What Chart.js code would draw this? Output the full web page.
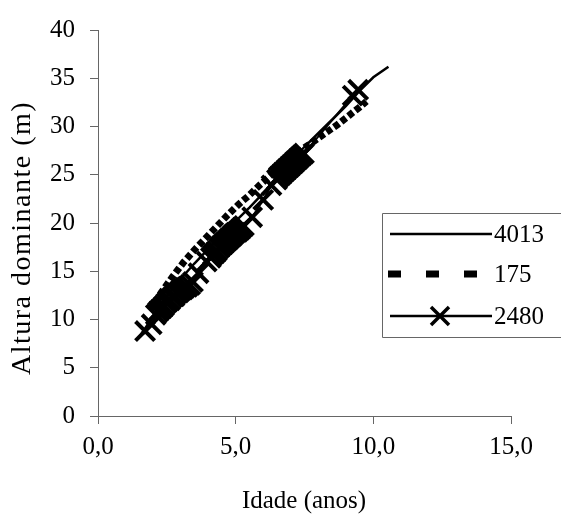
<!DOCTYPE html>
<html>
<head>
<meta charset="utf-8">
<script src="https://cdn.jsdelivr.net/npm/chart.js@4.4.1/dist/chart.umd.min.js"></script>
<style>
  html, body { margin: 0; padding: 0; background: #fff; }
  canvas { display: block; }
</style>
</head>
<body>
<canvas id="chart" width="561" height="515"></canvas>
<script>
const SERIF = "'Liberation Serif', 'Times New Roman', serif";
const AXIS = '#666';

// parcela 4013 (linha continua)
const idade4013 = [1.5, 2.0, 2.5, 3.0, 3.5, 4.0, 4.5, 5.0, 5.5, 6.0, 6.5, 7.0, 7.5, 8.0, 8.5, 9.0, 9.5, 10.0, 10.55];
const altura4013 = [8.2, 10.3, 12.4, 14.2, 15.8, 17.3, 18.8, 20.2, 21.6, 23.1, 24.7, 26.3, 27.9, 29.3, 30.7, 32.1, 33.7, 35.1, 36.2];

// parcela 175 (tracejada)
const idade175 = [1.9, 2.3, 2.7, 3.1, 3.5, 3.9, 4.3, 4.7, 5.1, 5.5, 5.9, 6.3, 6.7, 7.1, 7.5, 7.9, 8.3, 8.7, 9.1, 9.5, 9.75];
const altura175 = [11.0, 12.8, 14.4, 15.9, 17.2, 18.4, 19.6, 20.8, 21.9, 22.9, 24.0, 25.0, 26.0, 26.9, 27.8, 28.6, 29.4, 30.2, 31.1, 32.0, 32.6];

// parcela 2480 (marcador X), medicoes agrupadas por inventario
const idade2480 = [
  1.71, 1.95,
  2.10, 2.18, 2.25, 2.33, 2.40, 2.48, 2.55, 2.62, 2.70, 2.78, 2.85, 2.93, 3.00, 3.08, 3.16, 3.25, 3.35, 3.45,
  3.65, 3.95,
  4.10, 4.17, 4.25, 4.32, 4.40, 4.47, 4.55, 4.62, 4.70, 4.77, 4.85, 4.92, 5.00, 5.07, 5.15, 5.22, 5.30,
  5.60, 6.00, 6.30,
  6.50, 6.57, 6.65, 6.72, 6.80, 6.87, 6.95, 7.02, 7.10, 7.17, 7.25, 7.32, 7.40, 7.48,
  9.25, 9.45
];
const altura2480 = [
  8.8, 9.5,
  10.5, 10.8, 11.0, 11.2, 11.4, 11.7, 11.9, 12.0, 12.3, 12.4, 12.7, 12.8, 13.0, 13.1, 13.3, 13.4, 13.6, 13.9,
  14.8, 16.0,
  16.4, 16.7, 16.9, 17.1, 17.4, 17.6, 17.8, 18.0, 18.2, 18.4, 18.6, 18.8, 19.0, 19.1, 19.3, 19.5, 19.7,
  20.6, 22.4, 23.9,
  24.5, 24.8, 25.0, 25.2, 25.4, 25.6, 25.8, 26.0, 26.2, 26.4, 26.6, 26.8, 27.0, 27.2,
  33.2, 33.8
];

const xTicks = [0, 5, 10, 15];
const yTicks = [0, 5, 10, 15, 20, 25, 30, 35, 40];
const legendLabels = ['4013', '175', '2480'];

const pts = (xs, ys) => xs.map((x, i) => ({ x, y: ys[i] }));

// legenda em caixa e titulos dos eixos
const decor = {
  id: 'decor',
  afterDraw(chart) {
    const ctx = chart.ctx;
    ctx.save();
    ctx.fillStyle = '#000';
    ctx.textAlign = 'center';
    ctx.textBaseline = 'middle';

    ctx.font = '25px ' + SERIF;
    ctx.fillText('Idade (anos)', 304, 501);

    ctx.font = '28px ' + SERIF;
    ctx.translate(23, 238);
    ctx.rotate(-Math.PI / 2);
    ctx.letterSpacing = '1.5px';
    ctx.fillText('Altura dominante (m)', 0, 0);
    ctx.letterSpacing = '0px';
    ctx.setTransform(1, 0, 0, 1, 0, 0);
    ctx.font = '25px ' + SERIF;

    // caixa
    ctx.fillStyle = '#fff';
    ctx.fillRect(382, 213, 200, 124);
    ctx.strokeStyle = AXIS;
    ctx.lineWidth = 1;
    ctx.beginPath();
    ctx.moveTo(562, 213.5);
    ctx.lineTo(382.5, 213.5);
    ctx.lineTo(382.5, 337.5);
    ctx.lineTo(562, 337.5);
    ctx.stroke();

    const rows = [234, 274, 316];
    ctx.strokeStyle = '#000';
    ctx.lineCap = 'butt';

    ctx.lineWidth = 2.5;
    ctx.beginPath();
    ctx.moveTo(390, rows[0]);
    ctx.lineTo(492, rows[0]);
    ctx.stroke();

    ctx.lineWidth = 7;
    ctx.setLineDash([13, 25]);
    ctx.beginPath();
    ctx.moveTo(388, rows[1]);
    ctx.lineTo(492, rows[1]);
    ctx.stroke();
    ctx.setLineDash([]);

    ctx.lineWidth = 2.5;
    ctx.beginPath();
    ctx.moveTo(390, rows[2]);
    ctx.lineTo(492, rows[2]);
    ctx.stroke();
    ctx.lineWidth = 3.5;
    ctx.beginPath();
    ctx.moveTo(431, rows[2] - 9);
    ctx.lineTo(449, rows[2] + 9);
    ctx.moveTo(449, rows[2] - 9);
    ctx.lineTo(431, rows[2] + 9);
    ctx.stroke();

    ctx.fillStyle = '#000';
    ctx.textAlign = 'left';
    legendLabels.forEach((t, i) => ctx.fillText(t, 494, rows[i] + 1));
    ctx.restore();
  }
};

new Chart(document.getElementById('chart'), {
  type: 'scatter',
  data: {
    datasets: [
      {
        label: legendLabels[0],
        data: pts(idade4013, altura4013),
        showLine: true,
        borderColor: '#000',
        borderWidth: 2.5,
        pointRadius: 0,
        order: 3,
      },
      {
        label: legendLabels[1],
        data: pts(idade175, altura175),
        showLine: true,
        borderColor: '#000',
        borderWidth: 7,
        borderDash: [6, 3],
        pointRadius: 0,
        order: 2,
      },
      {
        label: legendLabels[2],
        data: pts(idade2480, altura2480),
        showLine: true,
        borderColor: '#000',
        borderWidth: 2,
        pointStyle: 'crossRot',
        pointRadius: 13.5,
        pointBorderWidth: 4,
        pointBorderColor: '#000',
        order: 1,
      },
    ],
  },
  options: {
    responsive: false,
    animation: false,
    devicePixelRatio: 1,
    layout: { padding: { left: 0, top: 24, right: 50, bottom: 0 } },
    plugins: {
      legend: { display: false },
      tooltip: { enabled: false },
    },
    scales: {
      x: {
        type: 'linear',
        min: 0, max: 15,
        afterFit: s => { s.height = 99; },
        afterBuildTicks: s => { s.ticks = xTicks.map(v => ({ value: v })); },
        ticks: {
          color: '#000',
          font: { family: SERIF, size: 25 },
          padding: 8,
          maxRotation: 0,
          callback: v => v.toFixed(1).replace('.', ','),
        },
        grid: { drawOnChartArea: false, color: AXIS, tickLength: 8 },
        border: { color: AXIS },
      },
      y: {
        min: 0, max: 40,
        afterFit: s => { s.width = 98; },
        afterBuildTicks: s => { s.ticks = yTicks.map(v => ({ value: v })); },
        ticks: {
          color: '#000',
          font: { family: SERIF, size: 25 },
          padding: 15,
        },
        grid: { drawOnChartArea: false, color: AXIS, tickLength: 8 },
        border: { color: AXIS },
      },
    },
  },
  plugins: [decor],
});
</script>
</body>
</html>
